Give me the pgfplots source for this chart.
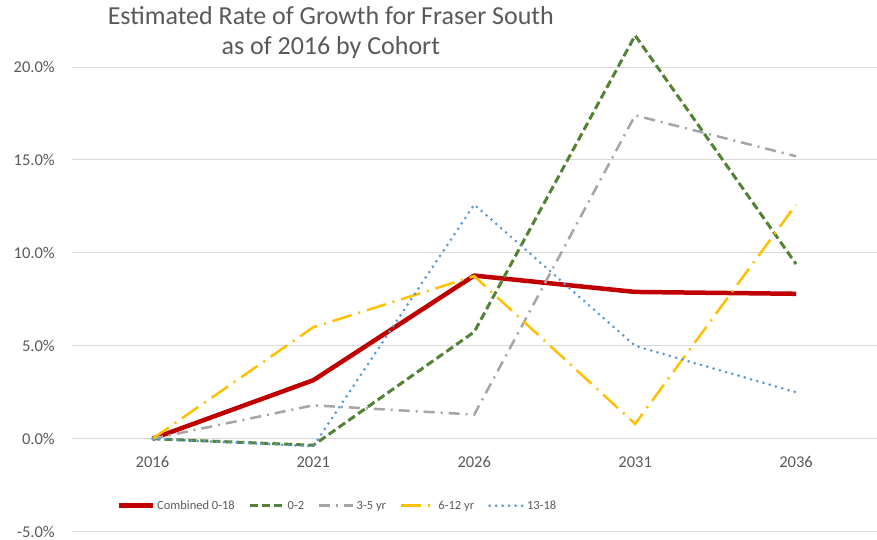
\documentclass[border=0pt]{standalone}
\usepackage{pgfplots}
\pgfplotsset{compat=1.18}
\usepackage{fontspec}
\setmainfont{Carlito}

\definecolor{txtgray}{HTML}{595959}
\definecolor{gridgray}{HTML}{D9D9D9}
\definecolor{cRed}{HTML}{C00000}
\definecolor{cGreen}{HTML}{548235}
\definecolor{cGray}{HTML}{A5A5A5}
\definecolor{cGold}{HTML}{FFC000}
\definecolor{cBlue}{HTML}{5B9BD5}

\begin{document}
\begin{tikzpicture}[x=1pt,y=1pt]
\begin{axis}[
  at={(0,0)}, anchor=south west,
  scale only axis, width=805pt, height=530pt,
  xmin=-0.5, xmax=4.5, ymin=-5, ymax=23.5,
  xtick={0,1,2,3,4},
  xticklabels={2016,2021,2026,2031,2036},
  ytick={-5,0,5,10,15,20},
  yticklabel={\pgfmathprintnumber[fixed,fixed zerofill,precision=1]{\tick}\%},
  /pgf/number format/assume math mode=true,
  ymajorgrids, grid style={gridgray, line width=1pt},
  axis line style={draw=none},
  major tick length=0pt,
  tick label style={font=\fontsize{16.5}{18}\selectfont, text=txtgray, inner sep=0pt},
  yticklabel style={anchor=east, xshift=-17pt},
  xticklabel style={anchor=center, yshift=70pt},
  clip=false,
  legend columns=5,
  legend style={draw=none, fill=none, at={(0.33,0.049)}, anchor=center,
    font=\fontsize{12.5}{14}\selectfont, text=txtgray,
    /tikz/every even column/.append style={column sep=12pt}},
  legend image code/.code={\draw[#1] (0pt,0pt) -- (34pt,0pt);},
]
\addplot[cRed, line width=4.5pt, line join=round] coordinates {(0,0) (1,3.15) (2,8.78) (3,7.9) (4,7.8)};
\addlegendentry{Combined 0-18}
\addplot[cGreen, line width=3pt, dash pattern=on 8pt off 4pt] coordinates {(0,0) (1,-0.35) (2,5.75) (3,21.7) (4,9.4)};
\addlegendentry{0-2}
\addplot[cGray, line width=2.5pt, dash pattern=on 11pt off 6pt on 2pt off 6pt] coordinates {(0,0) (1,1.8) (2,1.3) (3,17.4) (4,15.2)};
\addlegendentry{3-5 yr}
\addplot[cGold, line width=2.5pt, dash pattern=on 20pt off 7pt on 2pt off 7pt] coordinates {(0,0) (1,6.0) (2,8.75) (3,0.8) (4,12.6)};
\addlegendentry{6-12 yr}
\addplot[cBlue, line width=3pt, line cap=round, dash pattern=on 0pt off 6.5pt] coordinates {(0,0) (1,-0.4) (2,12.6) (3,5.0) (4,2.5)};
\addlegendentry{13-18}
\end{axis}
\node[align=center, text=txtgray, font=\fontsize{26}{30}\selectfont] at (259,499)
  {Estimated Rate of Growth for Fraser South\\as of 2016 by Cohort};
\useasboundingbox (-72,-8) rectangle (805,532);
\end{tikzpicture}
\end{document}
